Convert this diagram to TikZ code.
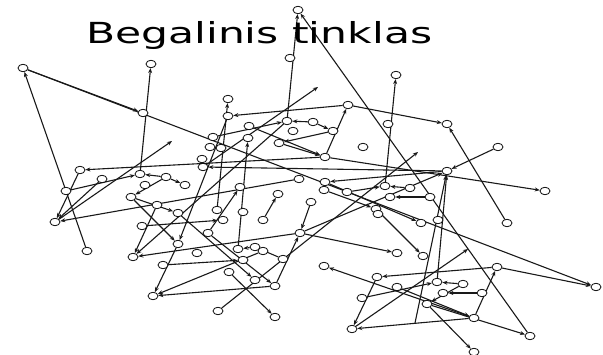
\documentclass[tikz,border=0pt]{standalone}
\usepackage{fontspec}
\usepackage{graphicx}
\setmainfont{DejaVu Sans}
\usetikzlibrary{arrows.meta,shapes.geometric}
\pgfdeclarelayer{background}
\pgfsetlayers{background,main}
\tikzset{
  v/.style={ellipse,draw=black,fill=white,line width=0.75pt,minimum width=10pt,minimum height=7.5pt,inner sep=0pt},
  e/.style={line width=1.1pt,draw=black!90,-{Stealth[length=5pt,width=4pt]}}
}
\begin{document}
\begin{tikzpicture}[x=1pt,y=-1pt]
\useasboundingbox (0,0) rectangle (603,355);
\node[anchor=base west,inner sep=0pt] (title) at (86,44) {\resizebox{346pt}{\height}{\fontsize{29pt}{30pt}\selectfont Begalinis tinklas}};
% nodes
\foreach \n/\x/\y in {
1/298/10, 2/290/58, 3/151/64, 4/23/68, 5/396/75, 6/228/99, 7/348/105, 8/143/113,
9/228/116, 10/287/121, 11/313/122, 12/388/124, 13/447/124, 14/249/126, 15/333/131,
16/293/131, 17/213/137, 18/248/138, 19/279/143, 20/210/147, 21/221/148, 22/363/147,
23/498/147, 24/325/157, 25/202/159, 26/203/167, 27/80/170, 28/447/171, 29/140/174,
30/166/177, 31/102/179, 32/299/179, 33/325/182, 34/145/185, 35/185/185, 36/385/186,
37/240/187, 38/410/188, 39/324/190, 40/545/191, 41/66/191, 42/347/192, 43/278/194,
44/131/197, 45/390/197, 46/430/197, 47/311/202, 48/157/205, 49/376/209, 50/217/210,
51/243/212, 52/178/213, 53/378/214, 54/438/220, 55/223/220, 56/263/220, 57/55/222,
58/421/223, 59/507/223, 60/142/226, 61/208/233, 62/300/233, 63/178/244, 64/238/249,
65/255/247, 66/87/251, 67/263/251, 68/197/253, 69/397/253, 70/133/257, 71/423/256,
72/243/260, 73/283/259, 74/163/265, 75/324/266, 76/497/267, 77/229/272, 78/377/277,
79/255/280, 80/437/282, 81/463/284, 82/275/286, 83/596/287, 84/397/287, 85/443/293,
86/482/293, 87/153/296, 88/362/298, 89/427/304, 90/218/311, 91/275/317, 92/474/318,
93/352/329, 94/530/336, 95/474/352}
  {\node[v] (n\n) at (\x,\y) {};}
\coordinate (f1) at (172,141);
\coordinate (f2) at (318,87);
\coordinate (f3) at (418,152);
\coordinate (f4) at (415,323);
\coordinate (f5) at (468,249);
\begin{pgfonlayer}{background}
\foreach \a/\b in {
n4/n8, n4/n83, n66/n4, n29/n3, n57/f1, n24/n27, n26/f2, n10/n1, n94/n1, n50/n6,
n7/n9, n7/n13, n36/n5, n59/n13, n24/n7, n19/n24, n14/n24, n23/n28, n28/n33,
n90/f3, n62/n28, n62/n69, n33/n58, n49/n71, n80/n28, f4/n28, n92/n93, n41/n29,
n30/n29, n27/n57, n31/n57, n32/n57, n44/n63, n48/n70, n10/n70, n63/n87, n82/n87,
n67/n87, n17/n10, n11/n10, n15/n19, n11/n15, n28/n26, n64/n18, n56/n43, n30/n44,
n44/n52, n47/n62, n82/n62, n77/n91, n52/n79, n61/n82, n92/n75, n76/n78, n78/n93,
n88/n80, n81/n80, n81/n89, n92/n76, n89/n95, n84/n92, n89/n94, n76/n83, n93/f5,
n42/n36, n38/n36, n24/n40, n62/n70, n74/n72, n60/n55, n65/n64, n73/n65, n30/n35,
n61/n37, n46/n45, n39/n49, n86/n85, n9/n63}
  {\draw[e] (\a) -- (\b);}
\end{pgfonlayer}
\end{tikzpicture}
\end{document}
